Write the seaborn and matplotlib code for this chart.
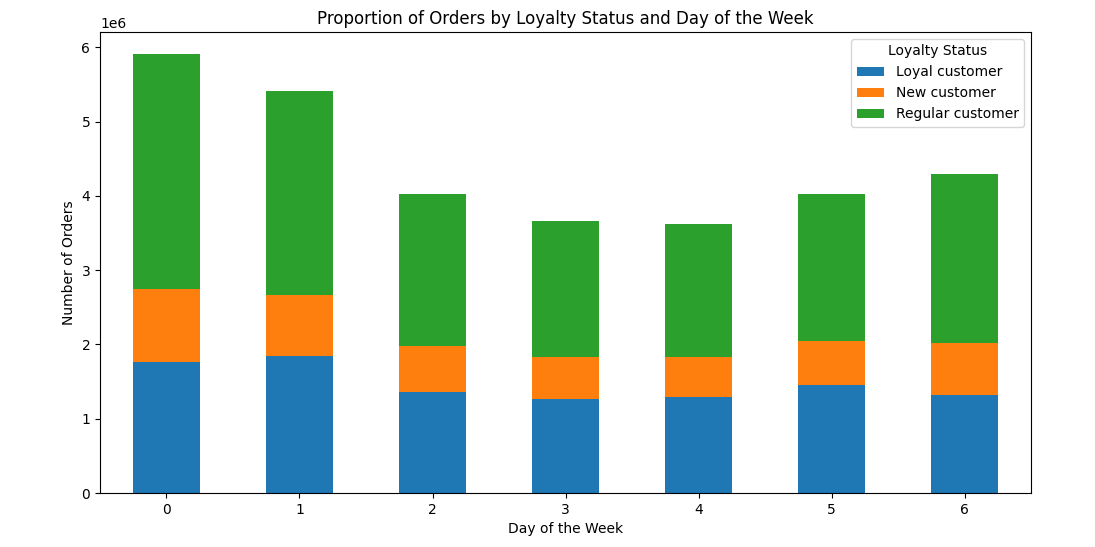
import matplotlib
matplotlib.use("Agg")
import matplotlib.pyplot as plt
import seaborn as sns
import numpy as np

# values in millions of orders
days = [0, 1, 2, 3, 4, 5, 6]
loyal = [1.76, 1.84, 1.359, 1.265, 1.292, 1.449, 1.318]
new = [0.98, 0.82, 0.617, 0.563, 0.536, 0.591, 0.698]
regular = [3.17, 2.75, 2.044, 1.832, 1.798, 1.98, 2.274]

statuses = ["Loyal customer", "New customer", "Regular customer"]
colors = ["#1f77b4", "#ff7f0e", "#2ca02c"]

fig, ax = plt.subplots(figsize=(10.95, 5.47))
fig.subplots_adjust(left=0.0913, right=0.9416, top=0.9415, bottom=0.0987)

bottom = np.zeros(len(days))
for name, vals, col in zip(statuses, [loyal, new, regular], colors):
    v = np.array(vals) * 1e6
    sns.barplot(x=days, y=v, bottom=bottom, color=col, label=name,
                width=0.5, saturation=1, ax=ax)
    bottom = bottom + v

ax.set_xlim(-0.5, 6.5)
ax.set_title("Proportion of Orders by Loyalty Status and Day of the Week")
ax.set_xlabel("Day of the Week")
ax.set_ylabel("Number of Orders")
ax.legend(title="Loyalty Status", loc="upper right")

fig.savefig("out.png", dpi=100)
